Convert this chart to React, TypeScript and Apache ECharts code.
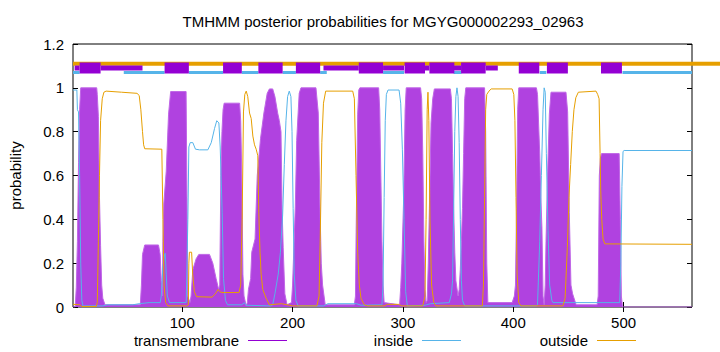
import React, { useEffect, useRef } from 'react';
import * as echarts from 'echarts';

const chartTitle = 'TMHMM posterior probabilities for MGYG000002293_02963';
const seqStart = 1;
const seqEnd = 562;
const xTickValues = [100, 200, 300, 400, 500];
const seriesNames = ['transmembrane', 'inside', 'outside'];

// posterior probability curves: [residue, probability]
const tmProb: [number, number][] = [
  [1, 0], [3, 0], [4, 0.09], [5, 0.3], [6, 0.66], [7, 0.9], [8, 1.0], [22.5, 1.0], [23, 0.97], [24, 0.87], [25, 0.5], [26, 0.28], [27, 0.1], [28, 0.04], [30, 0.01],
  [60, 0.01], [62, 0.01], [63, 0.1], [64, 0.24], [66, 0.283], [78.5, 0.283], [80, 0.24], [81, 0.12], [82, 0.05],
  [82.5, 0.3], [83.3, 0.47], [85.5, 0.62], [87.6, 0.88], [89.5, 0.983], [103.5, 0.983], [104.3, 0.5], [105, 0.05],
  [107, 0.02], [108, 0.05], [109.6, 0.17], [112.6, 0.22], [115, 0.24], [124.7, 0.24], [127.7, 0.2], [130.7, 0.13], [133, 0.08],
  [134, 0.1], [135, 0.6], [136, 0.8], [137, 0.9], [138, 0.93], [152, 0.93], [153, 0.85], [154, 0.6], [155, 0.15], [156, 0.05], [158, 0.005],
  [159, 0.02], [160, 0.08], [162, 0.13], [163, 0.25], [166, 0.31], [168, 0.6], [171, 0.77], [174, 0.885], [177, 0.975], [179, 0.995], [182, 0.995], [184, 0.96], [186.5, 0.885], [188, 0.85], [189.5, 0.8], [190.5, 0.45], [191.5, 0.27], [193, 0.06], [195, 0.01],
  [199, 0.02], [200, 0.1], [202.5, 0.46], [203.7, 0.76], [206, 0.975], [207.6, 1.0], [221.2, 1.0], [223.3, 0.885], [224.8, 0.46], [226, 0.2], [227.2, 0.1], [229.6, 0.01],
  [256, 0.01], [257, 0.05], [257.6, 0.34], [259, 0.88], [260, 0.99], [261, 1.0], [278, 1.0], [279, 0.9], [280, 0.6], [281, 0.3], [282, 0.1], [283, 0.02],
  [297, 0.01], [298, 0.09], [299, 0.2], [300.7, 0.5], [302, 0.9], [303, 1.0], [316, 1.0], [317, 0.95], [318, 0.7], [319, 0.3], [320, 0.08], [321, 0.02],
  [322, 0.03], [323, 0.2], [324, 0.45], [325.5, 0.84], [327, 0.95], [328.5, 0.995], [343, 0.995], [344, 0.95], [345, 0.7], [346, 0.45], [347, 0.25], [348, 0.12], [350, 0.05],
  [351, 0.08], [352, 0.17], [353, 0.3], [354, 0.45], [355, 0.7], [356, 0.95], [357, 1.0], [374, 1.0], [375, 0.8], [376, 0.2], [377, 0.02],
  [399, 0.02], [401, 0.05], [402, 0.1], [403, 0.45], [404, 0.9], [405, 1.0], [421, 1.0], [422, 0.97], [424, 0.7], [425, 0.5], [426, 0.36], [427, 0.05], [428, 0.01],
  [429, 0.1], [429.7, 0.3], [431.2, 0.62], [432.7, 0.88], [434.2, 0.98], [447.8, 0.98], [449.3, 0.89], [450.8, 0.43], [452.3, 0.1], [453.8, 0.06], [457, 0.01],
  [476, 0.01], [477, 0.05], [478, 0.6], [479, 0.68], [480, 0.7], [496, 0.7], [497, 0.4], [498, 0.05], [499, 0], [562, 0],
];

const insideProb: [number, number][] = [
  [1, 0.99], [4.5, 0.99], [5, 0.9], [6, 0.89], [7, 0.6], [8, 0.2], [9, 0.03], [10, 0.005], [28, 0.005], [32, 0.01], [55, 0.01], [61, 0.015], [70, 0.02], [80, 0.02],
  [81, 0.05], [82.4, 0.18], [84, 0.24], [84.6, 0.245], [85.5, 0.15], [86.5, 0.05], [88.5, 0.02], [103.6, 0.02],
  [105.1, 0.4], [106, 0.73], [107.2, 0.75], [109.6, 0.75], [112, 0.72], [115.7, 0.717], [123.2, 0.717], [126.3, 0.75], [129.3, 0.815], [131.3, 0.85], [133.2, 0.84], [134.4, 0.73], [136.2, 0.43], [137.4, 0.13], [139.2, 0.03], [141, 0.01],
  [154, 0.01], [156.4, 0.02], [158, 0.008], [180, 0.005], [182, 0.01], [184, 0.06], [187, 0.15], [189, 0.25], [191, 0.42], [192.5, 0.65], [194, 0.85], [195.5, 0.96], [197, 0.985], [198.5, 0.96], [199.5, 0.8], [200.5, 0.45], [201.5, 0.15], [203, 0.03], [205, 0.005],
  [228, 0.005], [232, 0.015], [258, 0.015], [262, 0.008], [281, 0.01], [282, 0.1], [283, 0.5], [284, 0.85], [285, 0.97], [286.5, 0.99], [296.5, 0.99], [298, 0.93], [299.5, 0.72], [301, 0.4], [302.5, 0.07], [304, 0.005],
  [320, 0.008], [325, 0.015], [342, 0.02], [344, 0.06], [345, 0.12], [346, 0.45], [347, 0.8], [348, 0.96], [349, 1.0], [350, 0.96], [351, 0.75], [352, 0.4], [353, 0.12], [354, 0.03], [356, 0.005],
  [421, 0.005], [422, 0.01], [424, 0.3], [425.5, 0.6], [427, 0.9], [428, 1.0], [429, 0.98], [430, 0.7], [431.5, 0.35], [433, 0.1], [435, 0.03], [436, 0.02],
  [496.5, 0.02], [497.5, 0.2], [498.5, 0.55], [499.5, 0.71], [500.5, 0.714], [562, 0.714],
];

const outsideProb: [number, number][] = [
  [1, 0.012], [7, 0.01], [9, 0.002], [22, 0.002], [23, 0.02], [24, 0.3], [25, 0.6], [26, 0.85], [27.5, 0.95], [29, 0.98], [31, 0.985], [45, 0.98], [59, 0.975], [61, 0.965], [62.5, 0.9], [64, 0.8], [65, 0.74], [66, 0.722], [81.5, 0.72], [82.5, 0.4], [83.5, 0.1], [85, 0.02], [87, 0.005],
  [104, 0.005], [105.5, 0.01], [106, 0.2], [106.5, 0.25], [108.5, 0.25], [109.5, 0.15], [111, 0.07], [113, 0.047], [127, 0.045], [130, 0.06], [132.5, 0.08], [134, 0.07], [136, 0.066], [151.5, 0.066],
  [153, 0.1], [154.3, 0.4], [155.5, 0.89], [156.7, 0.97], [158, 0.985], [159.4, 0.96], [161, 0.885], [162.5, 0.86], [164, 0.78], [165.5, 0.74], [167, 0.72], [168.5, 0.69], [169.4, 0.43], [170.5, 0.25], [171.5, 0.15], [173, 0.08], [176, 0.04], [179, 0.01], [190, 0.015], [195, 0.01], [200, 0.005],
  [222, 0.005], [224, 0.05], [225, 0.3], [226.5, 0.75], [228, 0.93], [230, 0.985], [254.5, 0.985], [256, 0.95], [257.5, 0.6], [259, 0.25], [260.5, 0.1], [262, 0.04], [265, 0.01], [268, 0.005],
  [283, 0.005], [286, 0.012], [296, 0.012], [299, 0.005], [318, 0.005], [320, 0.05], [321, 0.4], [322, 0.9], [322.7, 0.98], [323.5, 0.85], [324.5, 0.4], [326, 0.1], [328, 0.02], [330, 0.005],
  [372, 0.005], [373, 0.1], [374, 0.5], [375, 0.9], [376, 0.97], [378, 0.985], [380, 0.995], [399, 0.995], [400.5, 0.97], [401.5, 0.85], [402.5, 0.5], [403.5, 0.15], [405, 0.02], [407, 0.005],
  [445, 0.005], [447, 0.04], [449, 0.27], [450.5, 0.5], [452, 0.65], [453.5, 0.8], [455, 0.9], [456.7, 0.955], [459, 0.98], [475, 0.985], [476.5, 0.97], [477.8, 0.95], [478.7, 0.7], [479.3, 0.53], [480.2, 0.4], [481.4, 0.31], [483, 0.288], [562, 0.286],
];

// predicted topology band at the top: [start residue, end residue]
const outsideBandY = 1.11;
const insideBandY = 1.07;
const tmBandY = 1.09;
const outsideBand: [number, number][] = [[1, 562]];
const insideBand: [number, number][] = [[1, 7], [47, 84], [106, 137], [154, 169], [191, 203], [225, 231], [282, 301], [346, 353], [424, 430], [499, 562]];
const tmThinBand: [number, number][] = [[2.5, 7], [26, 64], [228, 260], [282, 301], [320, 324], [346, 353], [375, 386]];
const tmBand: [number, number][] = [[7, 26], [84, 106], [137, 154], [169, 191], [203, 225], [260, 282], [301.5, 320], [324, 346.6], [352.7, 375], [405, 423.6], [430.5, 449.5], [479.5, 498.5]];

const COL_TM = '#9400d3';
const COL_IN = '#56b4e9';
const COL_OUT = '#e69f00';
const FONT = "'Liberation Sans', Arial, Helvetica, sans-serif";

function bandData(segs: [number, number][], y: number) {
  const out: any[] = [];
  segs.forEach(([a, b]) => {
    out.push([a, y], [b, y], [b, '-']);
  });
  return out;
}

export default function App() {
  const ref = useRef<HTMLDivElement>(null);
  useEffect(() => {
    if (!ref.current) return;
    const chart = echarts.init(ref.current, undefined, { renderer: 'svg' });
    const legendBase = {
      orient: 'horizontal',
      top: 333,
      padding: 0,
      align: 'right',
      itemWidth: 39,
      itemHeight: 1,
      selectedMode: false,
      textStyle: { fontSize: 15, color: '#000', fontFamily: FONT, padding: [0, 4, 0, 0] },
    };
    const option: any = {
      animation: false,
      backgroundColor: '#fff',
      textStyle: { fontFamily: FONT },
      title: {
        text: chartTitle,
        left: 383,
        top: 14,
        padding: 0,
        textAlign: 'center',
        textStyle: { fontSize: 15, fontWeight: 'normal', color: '#000', fontFamily: FONT },
      },
      legend: [
        { ...legendBase, right: 720 - 287, data: [{ name: seriesNames[0], icon: 'rect', itemStyle: { color: COL_TM } }] },
        { ...legendBase, right: 720 - 461, data: [{ name: seriesNames[1], icon: 'rect', itemStyle: { color: COL_IN } }] },
        { ...legendBase, right: 720 - 636, data: [{ name: seriesNames[2], icon: 'rect', itemStyle: { color: COL_OUT } }] },
      ],
      grid: {
        left: 73, right: 28, top: 44, bottom: 45,
        show: true, borderColor: '#000', borderWidth: 1, backgroundColor: 'transparent',
        containLabel: false, outerBoundsMode: 'none',
      },
      xAxis: [
        {
          type: 'value', min: seqStart, max: seqEnd, position: 'bottom',
          axisLine: { show: false }, splitLine: { show: false },
          axisTick: { inside: true, length: 5, customValues: xTickValues, lineStyle: { color: '#000' } },
          axisLabel: { customValues: xTickValues, fontSize: 15, color: '#000', margin: 8, fontFamily: FONT },
        },
        {
          type: 'value', min: seqStart, max: seqEnd, position: 'top',
          axisLine: { show: false }, splitLine: { show: false },
          axisTick: { inside: true, length: 5, customValues: xTickValues, lineStyle: { color: '#000' } },
          axisLabel: { show: false },
        },
      ],
      yAxis: [
        {
          type: 'value', min: 0, max: 1.2, interval: 0.2, position: 'left',
          axisLine: { show: false }, splitLine: { show: false },
          axisTick: { inside: true, length: 5, lineStyle: { color: '#000' } },
          axisLabel: { fontSize: 15, color: '#000', margin: 9, fontFamily: FONT },
          name: 'probability', nameLocation: 'middle', nameGap: 50, nameRotate: 90,
          nameTextStyle: { fontSize: 15, color: '#000', fontFamily: FONT },
        },
        {
          type: 'value', min: 0, max: 1.2, interval: 0.2, position: 'right',
          axisLine: { show: false }, splitLine: { show: false },
          axisTick: { inside: true, length: 5, lineStyle: { color: '#000' } },
          axisLabel: { show: false },
        },
      ],
      series: [
        {
          name: seriesNames[0], type: 'line', data: tmProb, symbol: 'none', silent: true,
          color: '#b042e0',
          lineStyle: { width: 1, color: '#bf66e6' },
          areaStyle: { color: '#b042e0', opacity: 1 },
        },
        {
          name: seriesNames[1], type: 'line', data: insideProb, symbol: 'none', silent: true,
          color: COL_IN, lineStyle: { width: 1, color: COL_IN },
        },
        {
          name: seriesNames[2], type: 'line', data: outsideProb, symbol: 'none', silent: true,
          color: COL_OUT, lineStyle: { width: 1, color: COL_OUT },
        },
        {
          name: 'outsideBand', type: 'line', data: bandData(outsideBand, outsideBandY), symbol: 'none', silent: true,
          connectNulls: false, lineStyle: { width: 4, color: COL_OUT, cap: 'butt' },
        },
        {
          name: 'insideBand', type: 'line', data: bandData(insideBand, insideBandY), symbol: 'none', silent: true,
          connectNulls: false, lineStyle: { width: 3, color: COL_IN, cap: 'butt' },
        },
        {
          name: 'tmThinBand', type: 'line', data: bandData(tmThinBand, tmBandY), symbol: 'none', silent: true,
          connectNulls: false, lineStyle: { width: 5, color: COL_TM, cap: 'butt' },
        },
        {
          name: 'tmBand', type: 'line', data: bandData(tmBand, tmBandY), symbol: 'none', silent: true,
          connectNulls: false, lineStyle: { width: 11, color: COL_TM, cap: 'butt' },
        },
      ],
    };
    chart.setOption(option);
    // the outside band in the original runs on past the right border to the edge of the image
    const p = chart.convertToPixel({ gridIndex: 0 }, [seqEnd, outsideBandY]) as number[];
    if (p && isFinite(p[0]) && isFinite(p[1])) {
      chart.setOption({
        graphic: [{
          type: 'line', silent: true, z: 1,
          shape: { x1: p[0], y1: p[1], x2: chart.getWidth(), y2: p[1] },
          style: { stroke: COL_OUT, lineWidth: 4 },
        }],
      });
    }
    return () => chart.dispose();
  }, []);
  return (
    <div
      ref={ref}
      style={{ position: 'absolute', left: 0, top: 0, width: 720, height: 352, background: '#fff' }}
    />
  );
}
